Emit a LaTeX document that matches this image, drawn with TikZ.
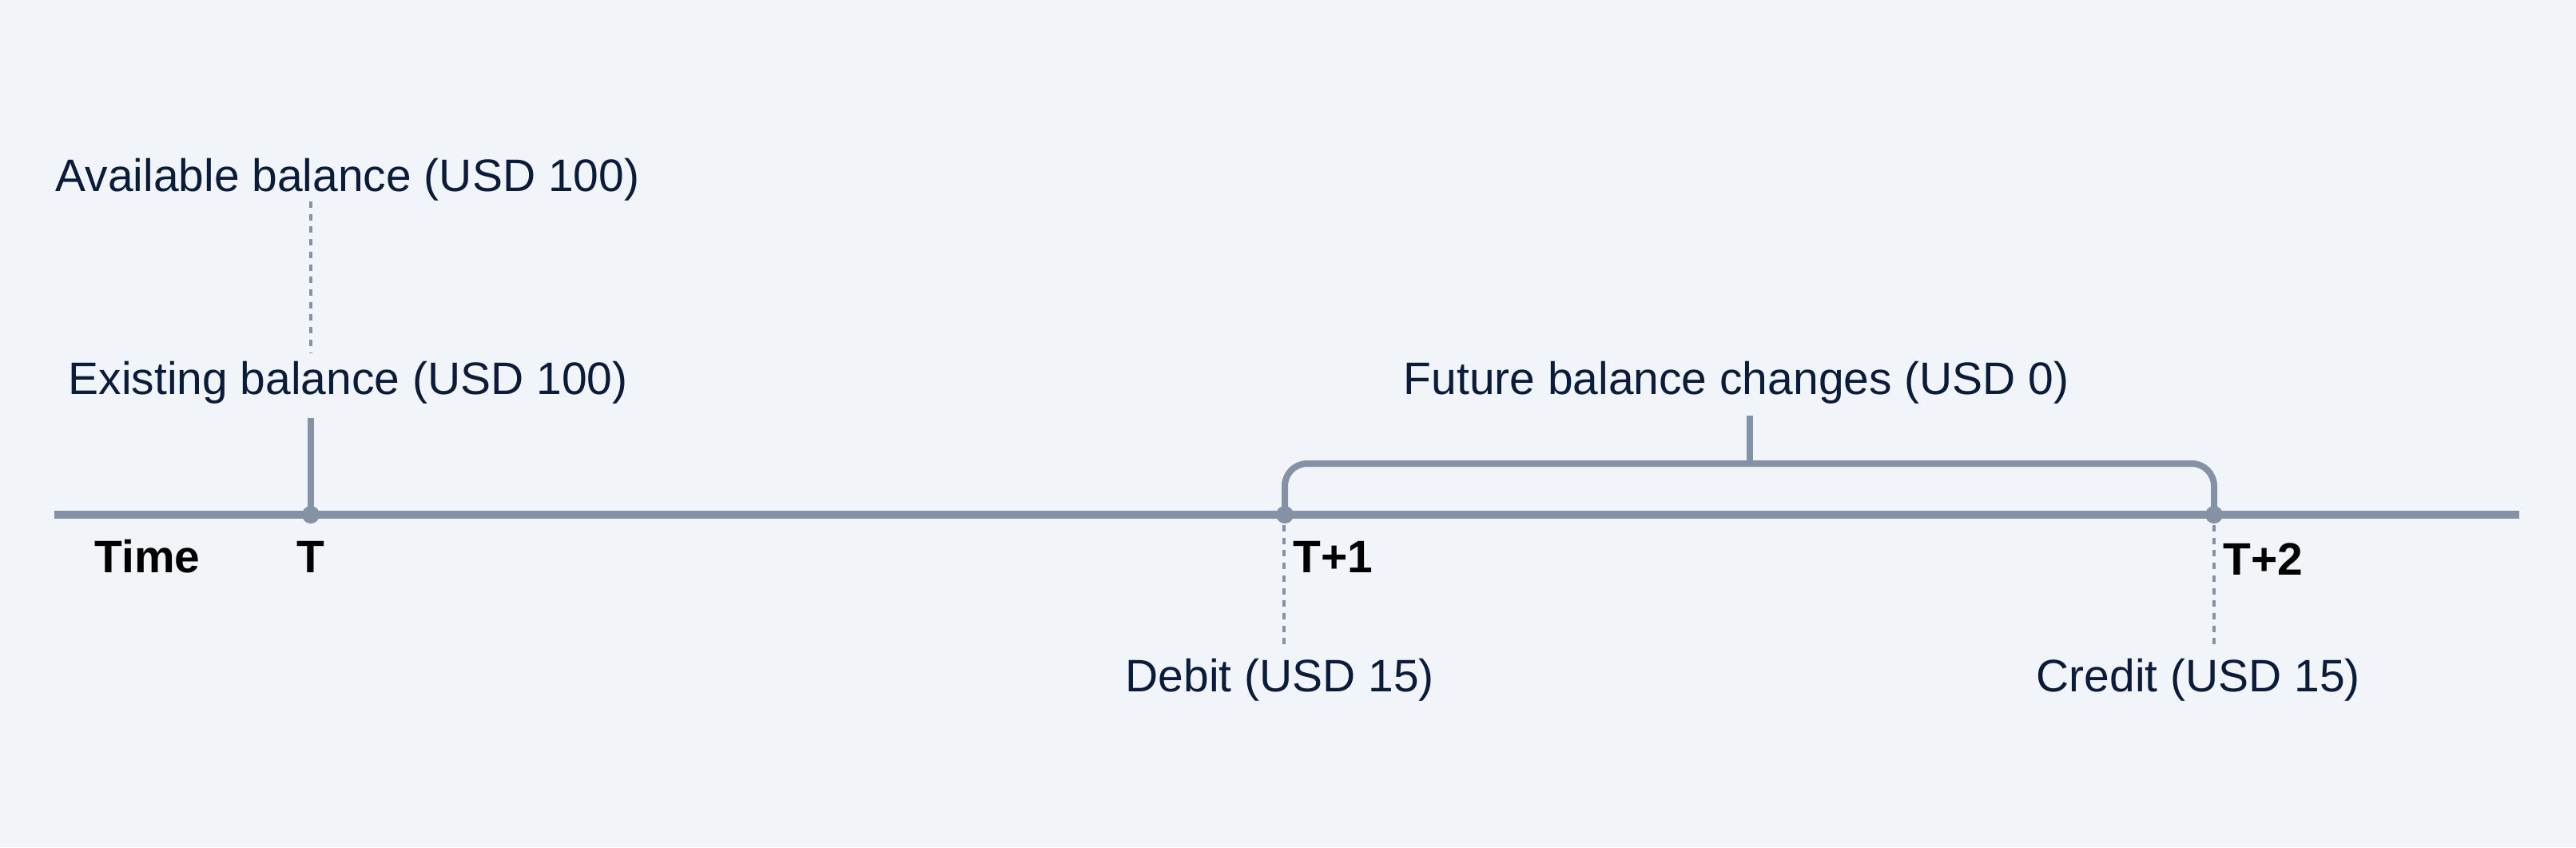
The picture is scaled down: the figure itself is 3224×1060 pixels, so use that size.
\documentclass[tikz,border=0pt]{standalone}
\usepackage{fontspec}
\setmainfont{Liberation Sans}
\definecolor{bg}{HTML}{F1F5F9}
\definecolor{ln}{HTML}{8591A5}
\definecolor{txt}{HTML}{0A1C3A}
\begin{document}
\begin{tikzpicture}[x=0.01cm,y=-0.01cm,
  lbl/.style={inner sep=0, anchor=base west, text=txt, font=\fontsize{16.2}{19}\selectfont},
  blbl/.style={inner sep=0, anchor=base west, text=black, font=\fontsize{16.2}{19}\selectfont\bfseries},
  axisline/.style={draw=ln, line width=0.105cm},
  tickline/.style={draw=ln, line width=0.08cm},
  guide/.style={draw=ln, line width=0.04cm, dash pattern=on 0.08cm off 0.077cm},
  dotmark/.style={circle, fill=ln, minimum size=0.22cm, inner sep=0}]
\fill[bg] (0,0) rectangle (3224,1060);
\useasboundingbox (0,0) rectangle (3224,1060);
% axis
\coordinate (axL) at (68,644);
\coordinate (axR) at (3153,644);
\draw[axisline] (axL) -- (axR);
% time points
\coordinate (p0) at (389,644);
\coordinate (p1) at (1608,644);
\coordinate (p2) at (2771,644);
% bracket
\coordinate (b1) at (1608,580);
\coordinate (b2) at (2771,580);
\coordinate (bm) at (2190,580);
\coordinate (bt) at (2190,520);
\draw[tickline, rounded corners=0.28cm] (p1) -- (b1) -- (b2) -- (p2);
\draw[tickline] (bm) -- (bt);
% T tick
\coordinate (tk0) at (389,523);
\draw[tickline] (p0) -- (tk0);
% dashed guides
\coordinate (g0a) at (389,252);
\coordinate (g0b) at (389,441);
\draw[guide] (g0a) -- (g0b);
\coordinate (g1a) at (1607,657);
\coordinate (g1b) at (1607,808);
\draw[guide] (g1a) -- (g1b);
\coordinate (g2a) at (2771,657);
\coordinate (g2b) at (2771,812);
\draw[guide] (g2a) -- (g2b);
% dots
\node[dotmark] (t0) at (p0) {};
\node[dotmark] (t1) at (p1) {};
\node[dotmark] (t2) at (p2) {};
% labels
\node[lbl] (avail) at (69,239) {Available balance (USD 100)};
\node[lbl] (exist) at (85,493) {Existing balance (USD 100)};
\node[lbl] (future) at (1756,493) {Future balance changes (USD 0)};
\node[blbl] (time) at (118,716) {Time};
\node[blbl, anchor=base] (tl0) at (389,716) {T};
\node[blbl] (tl1) at (1618,716) {T+1};
\node[blbl] (tl2) at (2782,719) {T+2};
\node[lbl] (debit) at (1408,865) {Debit (USD 15)};
\node[lbl] (credit) at (2548,865) {Credit (USD 15)};
\end{tikzpicture}
\end{document}
